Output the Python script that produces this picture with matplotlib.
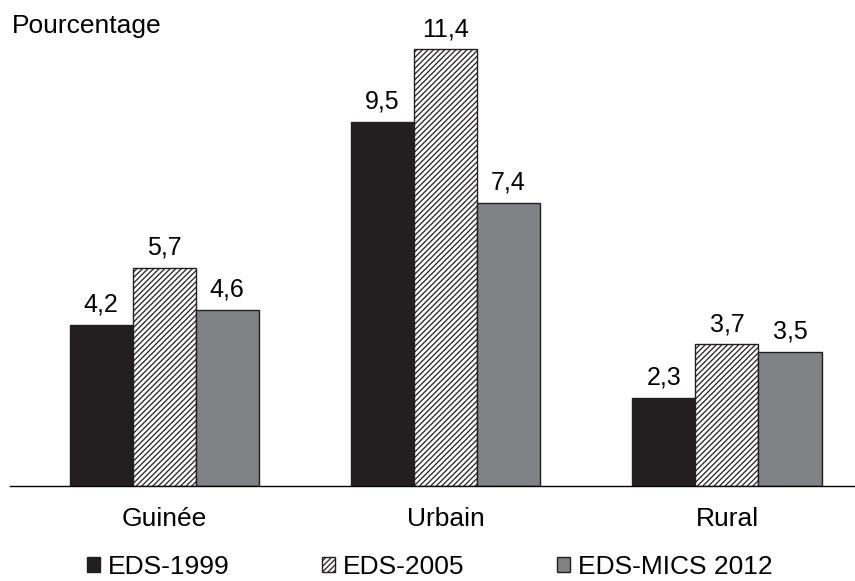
import matplotlib.pyplot as plt
import numpy as np

plt.rcParams['font.family'] = ['Liberation Sans', 'DejaVu Sans']
plt.rcParams['hatch.linewidth'] = 0.9

categories = ["Guinée", "Urbain", "Rural"]
series = ["EDS-1999", "EDS-2005", "EDS-MICS 2012"]
eds_1999 = [4.2, 9.5, 2.3]
eds_2005 = [5.7, 11.4, 3.7]
eds_mics_2012 = [4.6, 7.4, 3.5]

values = [eds_1999, eds_2005, eds_mics_2012]
colors = ["#231f20", "white", "#808285"]
hatches = [None, "//////", None]
fs = 19

fig = plt.figure(figsize=(8.55, 5.81), dpi=100)
ax = fig.add_axes([10 / 855, 1 - 486 / 581, 845 / 855, 456 / 581])

x = np.arange(len(categories))
w = 0.224
handles = []
for i, vals in enumerate(values):
    bars = ax.bar(x + (i - 1) * w, vals, w, color=colors[i], hatch=hatches[i],
                  edgecolor="#231f20", linewidth=1.0, label=series[i])
    handles.append(bars)
    for b, v in zip(bars, vals):
        ax.annotate(f"{v:.1f}".replace(".", ","), (b.get_x() + b.get_width() / 2, v),
                    xytext=(0, 9.5), textcoords="offset points",
                    ha="center", va="baseline", fontsize=18)

ax.set_xlim(-0.548, 2.455)
ax.set_ylim(0, 456 / 38.3)
ax.set_xticks(x, categories, fontsize=fs)
ax.tick_params(axis="x", length=0, pad=15)
ax.set_yticks([])
for s in ["top", "right", "left"]:
    ax.spines[s].set_visible(False)
ax.spines["bottom"].set_linewidth(1.0)

fig.text(12 / 855, 1 - 33 / 581, "Pourcentage", fontsize=fs, ha="left", va="baseline")

# legend entries placed one by one, spacing is uneven in the original
leg_x = [87, 322, 557]
for h, lab, lx in zip(handles, series, leg_x):
    fig.legend([h], [lab], loc="center left", bbox_to_anchor=(lx / 855, 1 - 567 / 581),
               frameon=False, fontsize=fs, handlelength=0.5, handleheight=0.5,
               handletextpad=0.3, borderaxespad=0, borderpad=0)

fig.savefig("out.png", dpi=100)
